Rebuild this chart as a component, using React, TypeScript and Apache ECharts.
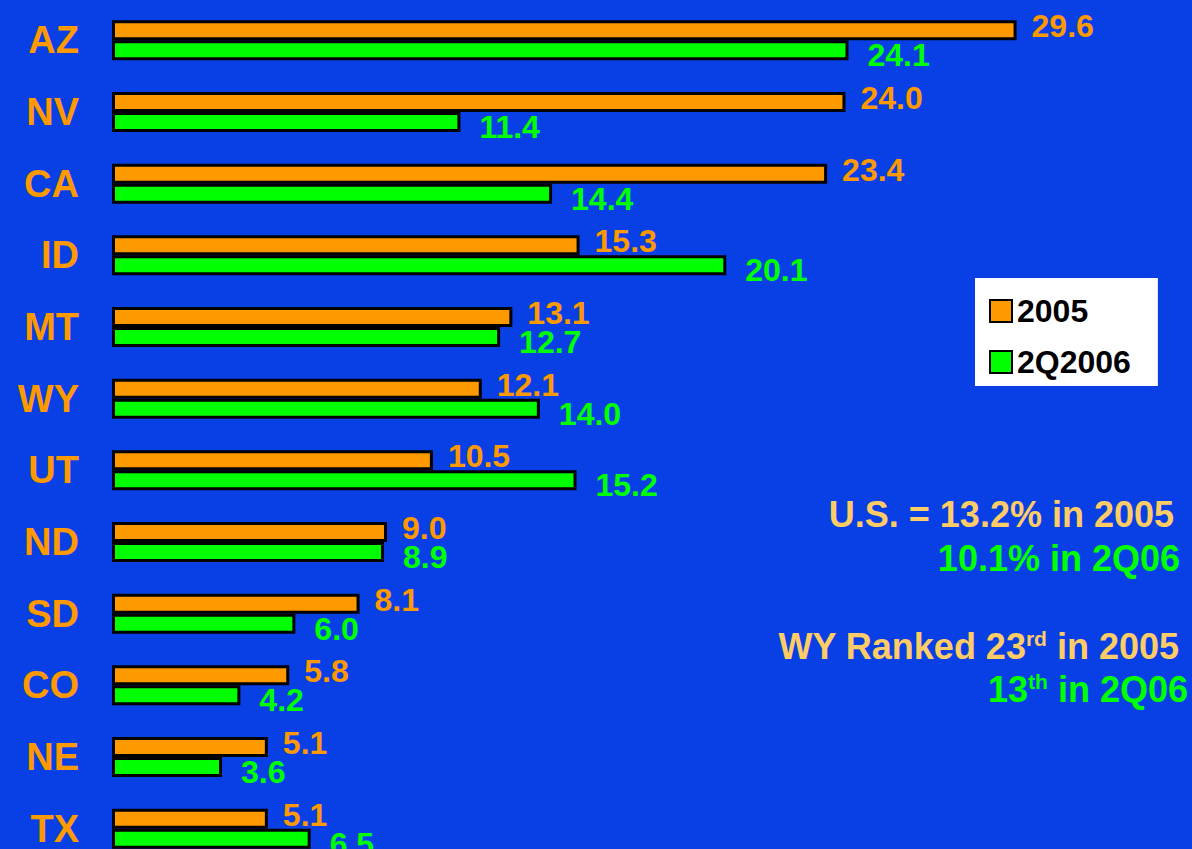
import React, { useEffect, useRef } from "react";
import * as echarts from "echarts";

const categories = ["AZ", "NV", "CA", "ID", "MT", "WY", "UT", "ND", "SD", "CO", "NE", "TX"];
const values2005 = [29.6, 24.0, 23.4, 15.3, 13.1, 12.1, 10.5, 9.0, 8.1, 5.8, 5.1, 5.1];
const values2Q2006 = [24.1, 11.4, 14.4, 20.1, 12.7, 14.0, 15.2, 8.9, 6.0, 4.2, 3.6, 6.5];
const seriesNames = ["2005", "2Q2006"];

const FONT = "'Liberation Sans', Arial, sans-serif";
const BG = "#0840E6";
const ORANGE = "#FF9900";
const GREEN = "#00FF00";
const LIGHT = "#FFCC66";

export default function App() {
  const ref = useRef<HTMLDivElement>(null);

  useEffect(() => {
    document.body.style.margin = "0";
    document.body.style.background = BG;
    document.body.style.overflow = "hidden";
    document.documentElement.style.overflow = "hidden";
    const chart = echarts.init(ref.current!, null, { renderer: "svg" });
    const barStyle = (color: string) => ({
      color,
      borderColor: "#000",
      borderWidth: 3,
    });
    const richMain = (fill: string) => ({
      fontSize: 36,
      fontWeight: "bold",
      fontFamily: FONT,
      fill,
      lineHeight: 37,
    });
    const richSup = (fill: string) => ({
      fontSize: 21,
      fontWeight: "bold",
      fontFamily: FONT,
      fill,
      verticalAlign: "top",
      lineHeight: 37,
    });
    chart.setOption({
      animation: false,
      backgroundColor: BG,
      grid: { left: 112, top: 4.5, width: 916.8, height: 860, containLabel: false },
      xAxis: {
        type: "value",
        min: 0,
        max: 30,
        show: false,
        splitLine: { show: false },
      },
      yAxis: {
        type: "category",
        data: categories,
        inverse: true,
        axisLine: { show: false },
        axisTick: { show: false },
        axisLabel: {
          color: ORANGE,
          fontSize: 38,
          fontWeight: "bold",
          fontFamily: FONT,
          margin: 33,
        },
      },
      legend: {
        data: seriesNames,
        orient: "vertical",
        left: 975,
        top: 278,
        padding: [17, 27, 8, 14],
        itemGap: 19,
        itemWidth: 22,
        itemHeight: 22,
        backgroundColor: "#FFFFFF",
        borderRadius: 0,
        icon: "rect",
        textStyle: {
          color: "#000",
          fontSize: 32,
          fontWeight: "bold",
          fontFamily: FONT,
        },
      },
      series: [
        {
          name: seriesNames[0],
          type: "bar",
          data: values2005,
          barWidth: 20,
          barGap: "0%",
          itemStyle: barStyle(ORANGE),
          label: {
            show: true,
            position: "right",
            distance: 15,
            offset: [0, -4],
            color: ORANGE,
            fontSize: 32,
            fontWeight: "bold",
            fontFamily: FONT,
            formatter: (p: any) => Number(p.value).toFixed(1),
          },
        },
        {
          name: seriesNames[1],
          type: "bar",
          data: values2Q2006,
          barWidth: 20,
          barGap: "0%",
          itemStyle: barStyle(GREEN),
          label: {
            show: true,
            position: "right",
            distance: 19,
            offset: [0, 5],
            color: GREEN,
            fontSize: 32,
            fontWeight: "bold",
            fontFamily: FONT,
            formatter: (p: any) => Number(p.value).toFixed(1),
          },
        },
      ],
      graphic: [
        {
          type: "text",
          x: 1174,
          y: 514,
          style: {
            text: "U.S. = 13.2% in 2005",
            fill: LIGHT,
            font: `bold 36px ${FONT}`,
            align: "right",
            verticalAlign: "middle",
          },
        },
        {
          type: "text",
          x: 1180,
          y: 558,
          style: {
            text: "10.1% in 2Q06",
            fill: GREEN,
            font: `bold 36px ${FONT}`,
            align: "right",
            verticalAlign: "middle",
          },
        },
        {
          type: "text",
          x: 1179,
          y: 646,
          style: {
            text: "{a|WY Ranked 23}{s|rd}{a| in 2005}",
            align: "right",
            verticalAlign: "middle",
            rich: { a: richMain(LIGHT), s: richSup(LIGHT) },
          },
        },
        {
          type: "text",
          x: 1188,
          y: 689,
          style: {
            text: "{a|13}{s|th}{a| in 2Q06}",
            align: "right",
            verticalAlign: "middle",
            rich: { a: richMain(GREEN), s: richSup(GREEN) },
          },
        },
      ],
    });
    return () => chart.dispose();
  }, []);

  return (
    <div
      ref={ref}
      style={{ position: "absolute", left: 0, top: 0, width: 1192, height: 870 }}
    />
  );
}
